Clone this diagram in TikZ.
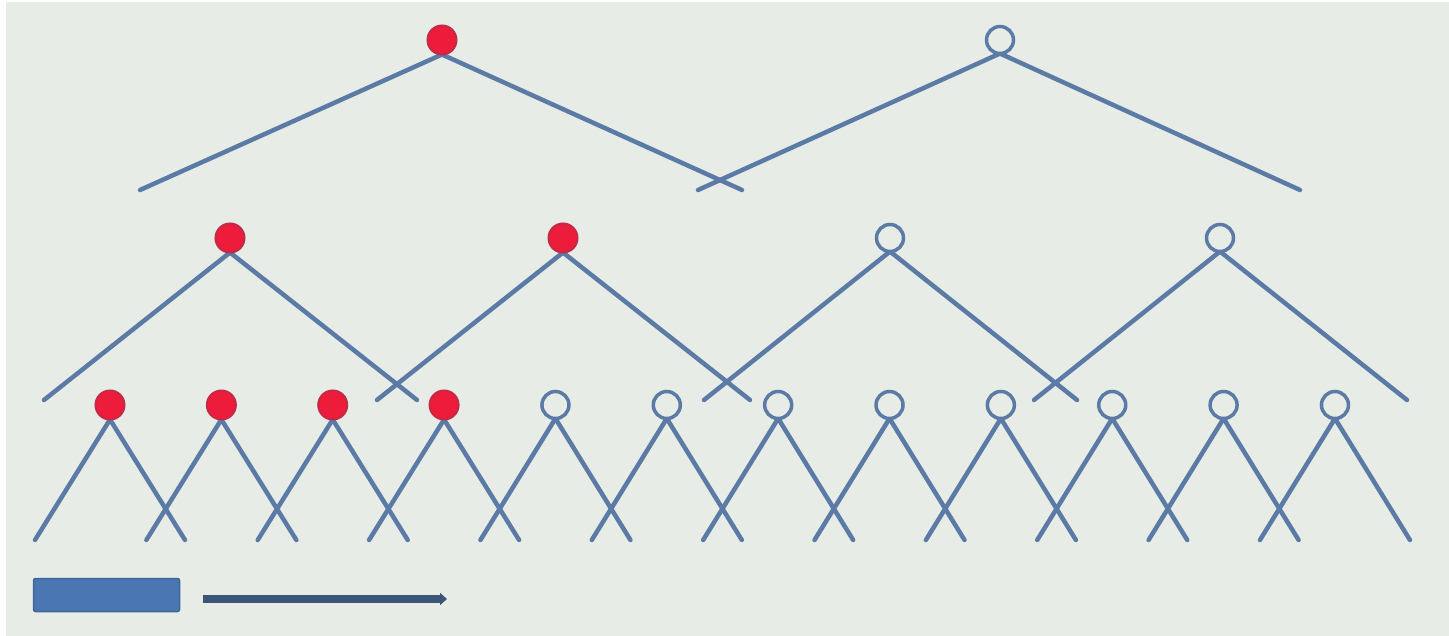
\documentclass[tikz,border=0pt]{standalone}
\usetikzlibrary{arrows.meta}
\definecolor{bg}{HTML}{E7ECE6}
\definecolor{edgecol}{HTML}{5B7BA6}
\definecolor{redfill}{HTML}{EC1C3A}
\definecolor{redline}{HTML}{C42A45}
\definecolor{barfill}{HTML}{4A77B1}
\definecolor{barline}{HTML}{3F6698}
\definecolor{arrowcol}{HTML}{3C5678}
\pgfdeclarelayer{backdrop}
\pgfdeclarelayer{edges}
\pgfsetlayers{backdrop,edges,main}
\tikzset{
  full/.style={circle,fill=redfill,draw=redline,line width=2pt,minimum size=29pt,inner sep=0pt,outer sep=0pt},
  hollow/.style={circle,fill=bg,draw=edgecol,line width=3.5pt,minimum size=27pt,inner sep=0pt,outer sep=0pt},
  leg/.style={draw=edgecol,line width=4.5pt,line cap=round},
  bar/.style={rectangle,fill=barfill,draw=barline,line width=1.5pt,rounded corners=2pt,minimum width=146pt,minimum height=33pt,inner sep=0pt},
  timearrow/.style={draw=arrowcol,line width=8pt,-{Triangle[length=7pt,width=12pt]}}
}
\begin{document}
\begin{tikzpicture}[x=1pt,y=-1pt]
\useasboundingbox (0,0) rectangle (1449,636);
\begin{pgfonlayer}{backdrop}
\fill[white] (0,0) rectangle (1449,636);
\fill[bg] (6,2) rectangle (1449,636);
\end{pgfonlayer}
% top level
\foreach \i/\x/\s in {1/442/full,2/1000/hollow}{
  \node[\s] (t\i) at (\x,40) {};
  \coordinate (tl\i) at (\x-302,190);
  \coordinate (tr\i) at (\x+300,190);
  \begin{pgfonlayer}{edges}
  \draw[leg] (t\i.south) -- (tl\i);
  \draw[leg] (t\i.south) -- (tr\i);
  \end{pgfonlayer}
}
% middle level
\foreach \i/\x/\s in {1/230/full,2/563/full,3/890/hollow,4/1220/hollow}{
  \node[\s] (m\i) at (\x,238) {};
  \coordinate (ml\i) at (\x-186,400);
  \coordinate (mr\i) at (\x+187,400);
  \begin{pgfonlayer}{edges}
  \draw[leg] (m\i.south) -- (ml\i);
  \draw[leg] (m\i.south) -- (mr\i);
  \end{pgfonlayer}
}
% bottom level
\foreach \i/\s in {0/full,1/full,2/full,3/full,4/hollow,5/hollow,6/hollow,7/hollow,8/hollow,9/hollow,10/hollow,11/hollow}{
  \pgfmathsetmacro{\x}{110+\i*111.36}
  \node[\s] (b\i) at (\x,405) {};
  \coordinate (bl\i) at (\x-75,540);
  \coordinate (br\i) at (\x+75,540);
  \begin{pgfonlayer}{edges}
  \draw[leg] (b\i.south) -- (bl\i);
  \draw[leg] (b\i.south) -- (br\i);
  \end{pgfonlayer}
}
% legend bar and arrow
\node[bar] (barbox) at (106.5,595) {};
\coordinate (arrowstart) at (203,599);
\coordinate (arrowend) at (447,599);
\draw[timearrow] (arrowstart) -- (arrowend);
\end{tikzpicture}
\end{document}
